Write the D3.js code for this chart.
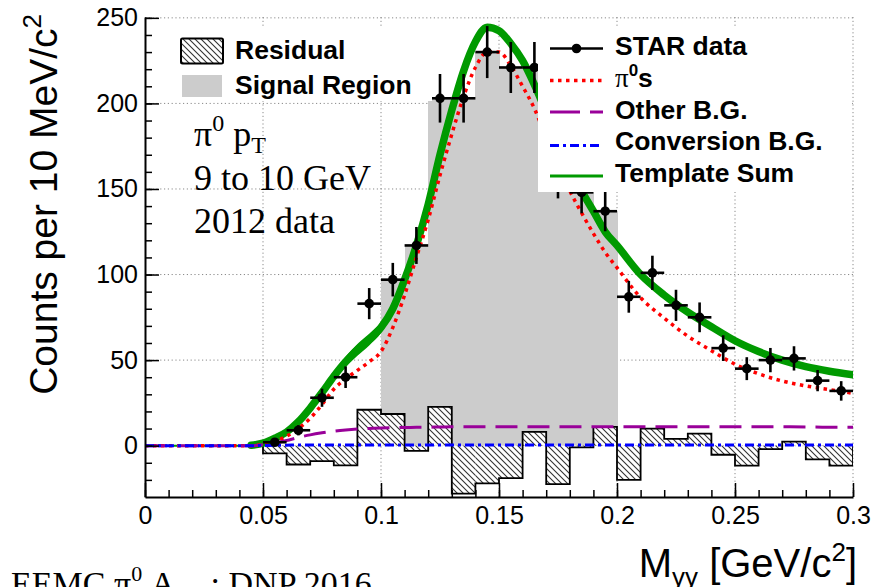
<!DOCTYPE html>
<html>
<head>
<meta charset="utf-8">
<script src="https://cdn.jsdelivr.net/npm/d3@7"></script>
<style>
  html, body { margin: 0; padding: 0; background: #fff; }
  svg { display: block; }
</style>
</head>
<body>
<svg id="chart" width="888" height="587"></svg>
<script>
// ---- Diphoton invariant-mass spectrum, 10 MeV bins (bin centres in GeV/c^2) ----
const massBins = [0.055, 0.065, 0.075, 0.085, 0.095, 0.105, 0.115, 0.125, 0.135, 0.145,
                  0.155, 0.165, 0.175, 0.185, 0.195, 0.205, 0.215, 0.225, 0.235, 0.245,
                  0.255, 0.265, 0.275, 0.285, 0.295];
const counts   = [2, 9, 28, 40, 83, 97, 117, 203, 203, 230,
                  221, 221, 157, 148, 137, 87, 101, 82, 75, 57,
                  45, 50, 51, 38, 32];
const countErr = [1.4, 3.0, 5.3, 6.3, 9.1, 9.8, 10.8, 14.2, 14.2, 15.2,
                  14.9, 14.9, 12.5, 12.2, 11.7, 9.3, 10.0, 9.1, 8.7, 7.5,
                  6.7, 7.1, 7.1, 6.2, 5.7];

// Residual (data minus template sum), one value per 10 MeV bin from 0.05 to 0.30
const residualLowEdges = [0.05, 0.06, 0.07, 0.08, 0.09, 0.10, 0.11, 0.12, 0.13, 0.14,
                          0.15, 0.16, 0.17, 0.18, 0.19, 0.20, 0.21, 0.22, 0.23, 0.24,
                          0.25, 0.26, 0.27, 0.28, 0.29];
const residual = [-4.5, -11, -9, -11.5, 21, 18.5, -3, 22.7, -28, -22,
                  -19, 8, -22.5, -1, 11, -20, 10, 4, 7, -5.3,
                  -11.7, -2, 2.4, -8, -11.7];

// Signal integration window
const signalRange = [0.10, 0.20];

// Fitted templates, sampled in mass
const curveMass = [0, 0.04, 0.045, 0.05, 0.055, 0.06, 0.065, 0.07, 0.075, 0.08,
                   0.085, 0.09, 0.095, 0.1, 0.105, 0.11, 0.115, 0.12, 0.125, 0.13,
                   0.135, 0.14, 0.145, 0.15, 0.155, 0.16, 0.165, 0.17, 0.175, 0.18,
                   0.185, 0.19, 0.195, 0.2, 0.21, 0.22, 0.23, 0.24, 0.25, 0.26,
                   0.27, 0.28, 0.29, 0.3];
const templateSum = [0, 0, 0.2, 1.5, 4.4, 8, 14, 22, 31, 40.5,
                     49, 56, 62, 69, 80, 97, 117, 141, 170, 196,
                     219, 236, 244.5, 242.5, 235, 225, 211, 195, 179, 163,
                     149, 137, 125, 117, 100, 88, 78, 69.5, 61.3, 55,
                     50, 46.2, 43.5, 41.4];
const templateSpread = [0, 0, 0, 0.3, 0.6, 1, 1.4, 1.8, 2.2, 2.6,
                        3, 3.4, 3.4, 3.2, 2.6, 2, 1.6, 1.4, 1.2, 1.2,
                        1.2, 1.4, 1.6, 1.6, 1.4, 1.2, 1, 1, 1, 1,
                        1, 1, 1, 1, 1, 1, 1, 1, 1, 1,
                        1, 1, 1, 1];
const pi0Template = [0, 0, 0, 0.8, 2.5, 5.5, 10, 16, 24, 33,
                     39, 44, 49, 55, 69, 88, 110, 132, 158, 182,
                     204, 221, 230, 230, 222, 210, 197, 180, 165, 149,
                     136, 124, 113, 104, 86.5, 74.5, 64, 55.5, 47.6, 42,
                     37.8, 34.9, 32.8, 30.6];
const otherBG = [0, 0, 0, 0.5, 1.5, 3, 4.8, 6.3, 7.5, 8.5,
                 9.2, 9.7, 10, 10.3, 10.5, 10.6, 10.7, 10.8, 10.9, 11,
                 11, 11, 11, 11, 11, 11, 11, 11, 11, 11,
                 11, 11, 11, 11, 11, 11, 11, 11, 11, 11,
                 11, 10.9, 10.8, 10.8];
const conversionBG = [0, 0, 0, 0.1, 0.2, 0.3, 0.4, 0.4, 0.4, 0.4,
                      0.4, 0.4, 0.4, 0.4, 0.4, 0.4, 0.4, 0.4, 0.4, 0.4,
                      0.4, 0.4, 0.4, 0.4, 0.4, 0.4, 0.4, 0.4, 0.4, 0.4,
                      0.4, 0.4, 0.4, 0.4, 0.4, 0.4, 0.4, 0.4, 0.4, 0.4,
                      0.4, 0.4, 0.4, 0.4];

// Axis ticks
const xTicks = [0, 0.05, 0.1, 0.15, 0.2, 0.25, 0.3];
const xTickLabels = ["0", "0.05", "0.1", "0.15", "0.2", "0.25", "0.3"];
const yTicks = [0, 50, 100, 150, 200, 250];
const yTickLabels = ["0", "50", "100", "150", "200", "250"];

// ---------------------------------------------------------------
const SANS = "'Liberation Sans', Arial, Helvetica, sans-serif";
const SERIF = "'Liberation Serif', 'Times New Roman', Times, serif";
const C = {
  gray: "#cccccc", green: "#009a00", red: "#ff0000",
  purple: "#990099", blue: "#0000ff", grid: "#8a8a8a"
};

const svg = d3.select("#chart");
const frame = { left: 145, right: 853, top: 17, bottom: 497 };

const x = d3.scaleLinear().domain([0, 0.3]).range([frame.left, frame.right]);
const y = d3.scaleLinear().domain([-30, 250.5]).range([frame.bottom, frame.top]);

const defs = svg.append("defs");
defs.append("clipPath").attr("id", "plotClip")
  .append("rect")
  .attr("x", frame.left).attr("y", frame.top)
  .attr("width", frame.right - frame.left).attr("height", frame.bottom - frame.top);

const hatch = defs.append("pattern").attr("id", "hatch")
  .attr("patternUnits", "userSpaceOnUse").attr("width", 6).attr("height", 6);
hatch.append("rect").attr("width", 6).attr("height", 6).attr("fill", "#fff");
hatch.append("path").attr("d", "M-1,-1 L7,7 M-1,5 L1,7 M5,-1 L7,1")
  .attr("stroke", "#333").attr("stroke-width", 1.1);

// ---- grid ----
const grid = svg.append("g").attr("stroke", C.grid).attr("stroke-width", 1)
  .attr("stroke-dasharray", "1.2,2.6");
grid.selectAll("line.gx").data(xTicks.slice(1)).join("line").attr("class", "gx")
  .attr("x1", d => x(d)).attr("x2", d => x(d))
  .attr("y1", frame.top).attr("y2", frame.bottom);
grid.selectAll("line.gy").data(yTicks).join("line").attr("class", "gy")
  .attr("x1", frame.left).attr("x2", frame.right)
  .attr("y1", d => y(d)).attr("y2", d => y(d));

const plot = svg.append("g").attr("clip-path", "url(#plotClip)");

// ---- signal region: data histogram inside the window ----
const binHalf = 0.005;
const signalBins = massBins.map((m, i) => ({ m, c: counts[i] }))
  .filter(d => d.m > signalRange[0] && d.m < signalRange[1]);
plot.append("g").attr("shape-rendering", "crispEdges")
  .selectAll("rect").data(signalBins).join("rect")
  .attr("x", d => x(d.m - binHalf))
  .attr("width", d => x(d.m + binHalf) - x(d.m - binHalf) + 0.6)
  .attr("y", d => y(d.c))
  .attr("height", d => y(0) - y(d.c))
  .attr("fill", C.gray);

// ---- residual histogram ----
const resid = residualLowEdges.map((lo, i) => ({ lo, hi: lo + 0.01, r: residual[i] }));
plot.append("g").selectAll("rect").data(resid).join("rect")
  .attr("x", d => x(d.lo))
  .attr("width", d => x(d.hi) - x(d.lo))
  .attr("y", d => Math.min(y(d.r), y(0)))
  .attr("height", d => Math.abs(y(d.r) - y(0)))
  .attr("fill", "url(#hatch)");
const outline = [[resid[0].lo, 0]];
resid.forEach(d => { outline.push([d.lo, d.r]); outline.push([d.hi, d.r]); });
outline.push([resid[resid.length - 1].hi, 0]);
plot.append("path")
  .attr("d", d3.line().x(d => x(d[0])).y(d => y(d[1]))(outline))
  .attr("fill", "none").attr("stroke", "#000").attr("stroke-width", 1.8);

// ---- templates ----
const pts = arr => curveMass.map((m, i) => ({ m, v: arr[i] }));
const line = d3.line().x(d => x(d.m)).y(d => y(d.v)).curve(d3.curveMonotoneX);

// template sum: band + thick line
const band = curveMass.map((m, i) => ({ m, lo: templateSum[i] - templateSpread[i], hi: templateSum[i] + templateSpread[i] }));
plot.append("path")
  .attr("d", d3.area().x(d => x(d.m)).y0(d => y(d.lo)).y1(d => y(d.hi)).curve(d3.curveMonotoneX)(band))
  .attr("fill", C.green);
plot.append("path").attr("d", line(pts(templateSum)))
  .attr("fill", "none").attr("stroke", C.green).attr("stroke-width", 2);
plot.append("path").attr("d", line(pts(templateSum).filter(d => d.m >= 0.045)))
  .attr("fill", "none").attr("stroke", C.green).attr("stroke-width", 7.5)
  .attr("stroke-linejoin", "round").attr("stroke-linecap", "round");

plot.append("path").attr("d", line(pts(pi0Template)))
  .attr("fill", "none").attr("stroke", C.red).attr("stroke-width", 3.5)
  .attr("stroke-dasharray", "3.5,4.5");
plot.append("path").attr("d", line(pts(otherBG)))
  .attr("fill", "none").attr("stroke", C.purple).attr("stroke-width", 3)
  .attr("stroke-dasharray", "22,10");
plot.append("path").attr("d", line(pts(conversionBG)))
  .attr("fill", "none").attr("stroke", C.blue).attr("stroke-width", 3)
  .attr("stroke-dasharray", "9,4,3,4");

// ---- data points ----
const data = massBins.map((m, i) => ({ m, c: counts[i], e: countErr[i] }));
const pg = plot.append("g").attr("stroke", "#000").attr("stroke-width", 2.6);
pg.selectAll("line.eh").data(data).join("line").attr("class", "eh")
  .attr("x1", d => x(d.m - binHalf)).attr("x2", d => x(d.m + binHalf))
  .attr("y1", d => y(d.c)).attr("y2", d => y(d.c));
pg.selectAll("line.ev").data(data).join("line").attr("class", "ev")
  .attr("x1", d => x(d.m)).attr("x2", d => x(d.m))
  .attr("y1", d => y(d.c - d.e)).attr("y2", d => y(d.c + d.e));
plot.append("g").selectAll("circle").data(data).join("circle")
  .attr("cx", d => x(d.m)).attr("cy", d => y(d.c)).attr("r", 4.8).attr("fill", "#000");

// ---- legends ----
const legL = svg.append("g");
legL.append("rect").attr("x", 148).attr("y", 27).attr("width", 284).attr("height", 74).attr("fill", "#fff");
legL.append("rect").attr("x", 181).attr("y", 38.5).attr("width", 42).attr("height", 25)
  .attr("rx", 1.5).attr("fill", "url(#hatch)").attr("stroke", "#000").attr("stroke-width", 2);
legL.append("rect").attr("x", 182).attr("y", 75).attr("width", 40).attr("height", 22).attr("fill", C.gray);
legL.append("text").attr("x", 235).attr("y", 58.5).text("Residual");
legL.append("text").attr("x", 235).attr("y", 93.5).text("Signal Region");
legL.selectAll("text").attr("font-family", SANS).attr("font-weight", "bold").attr("font-size", 26.5).attr("fill", "#000");

const legR = svg.append("g");
legR.append("rect").attr("x", 538).attr("y", 26).attr("width", 314).attr("height", 166).attr("fill", "#fff");
const rowY = [55, 87, 118.5, 150, 181.5];
const sx0 = 550, sx1 = 603;
// STAR data
legR.append("line").attr("x1", sx0).attr("x2", sx1).attr("y1", rowY[0] - 6.5).attr("y2", rowY[0] - 6.5)
  .attr("stroke", "#000").attr("stroke-width", 2.6);
legR.append("circle").attr("cx", (sx0 + sx1) / 2).attr("cy", rowY[0] - 6.5).attr("r", 4.8).attr("fill", "#000");
legR.append("line").attr("x1", sx0).attr("x2", sx1).attr("y1", rowY[1] - 6.5).attr("y2", rowY[1] - 6.5)
  .attr("stroke", C.red).attr("stroke-width", 3.5).attr("stroke-dasharray", "3.5,4.5");
legR.append("line").attr("x1", sx0).attr("x2", sx1).attr("y1", rowY[2] - 6.5).attr("y2", rowY[2] - 6.5)
  .attr("stroke", C.purple).attr("stroke-width", 3).attr("stroke-dasharray", "30,10");
legR.append("line").attr("x1", sx0).attr("x2", sx1).attr("y1", rowY[3] - 4.5).attr("y2", rowY[3] - 4.5)
  .attr("stroke", C.blue).attr("stroke-width", 3).attr("stroke-dasharray", "9,4,3,4");
legR.append("line").attr("x1", sx0).attr("x2", sx1).attr("y1", rowY[4] - 5.5).attr("y2", rowY[4] - 5.5)
  .attr("stroke", C.green).attr("stroke-width", 3);

const legText = legR.append("g").attr("font-family", SANS).attr("font-weight", "bold")
  .attr("font-size", 26.5).attr("fill", "#000");
legText.append("text").attr("x", 615).attr("y", rowY[0]).text("STAR data");
const piT = legText.append("text").attr("x", 615).attr("y", rowY[1]);
piT.append("tspan").attr("font-family", SERIF).attr("font-weight", "normal").attr("font-size", 27).text("π");
piT.append("tspan").attr("font-size", 17).attr("dy", -11).text("0");
piT.append("tspan").attr("dy", 11).text("s");
legText.append("text").attr("x", 615).attr("y", rowY[2]).text("Other B.G.");
legText.append("text").attr("x", 615).attr("y", rowY[3]).text("Conversion B.G.");
legText.append("text").attr("x", 615).attr("y", rowY[4]).text("Template Sum");

// ---- annotation ----
const ann = svg.append("g").attr("font-family", SERIF).attr("font-size", 36).attr("fill", "#000");
const a1 = ann.append("text").attr("x", 194).attr("y", 146);
a1.append("tspan").text("π");
a1.append("tspan").attr("font-size", 24).attr("dy", -15).text("0");
a1.append("tspan").attr("dy", 15).text(" p");
a1.append("tspan").attr("font-size", 24).attr("dy", 7).text("T");
ann.append("text").attr("x", 194).attr("y", 190).text("9 to 10 GeV");
ann.append("text").attr("x", 194).attr("y", 233).text("2012 data");

// ---- axes ----
const axisG = svg.append("g");
const xMinor = d3.range(0, 0.3001, 0.01);
const yMinor = d3.range(-20, 250.5, 10);

axisG.append("g").attr("transform", `translate(0,${frame.bottom})`)
  .call(d3.axisBottom(x).tickValues(xTicks).tickSizeInner(-14).tickSizeOuter(0)
    .tickPadding(9).tickFormat((d, i) => xTickLabels[i]));
axisG.append("g").attr("transform", `translate(0,${frame.bottom})`)
  .call(d3.axisBottom(x).tickValues(xMinor).tickSizeInner(-7).tickSizeOuter(0).tickFormat(""))
  .call(g => g.select(".domain").remove());

axisG.append("g").attr("transform", `translate(${frame.left},0)`)
  .call(d3.axisLeft(y).tickValues(yTicks).tickSizeInner(-14).tickSizeOuter(0)
    .tickPadding(7).tickFormat((d, i) => yTickLabels[i]));
axisG.append("g").attr("transform", `translate(${frame.left},0)`)
  .call(d3.axisLeft(y).tickValues(yMinor).tickSizeInner(-7).tickSizeOuter(0).tickFormat(""))
  .call(g => g.select(".domain").remove());

axisG.selectAll(".domain").attr("stroke", "#000").attr("stroke-width", 2);
axisG.selectAll(".tick line").attr("stroke", "#000").attr("stroke-width", 1.5);
axisG.selectAll(".tick text").attr("font-family", SANS).attr("font-size", 25).attr("fill", "#000");

// axis titles
const yt = svg.append("text").attr("transform", "translate(57,14) rotate(-90)")
  .attr("text-anchor", "end").attr("font-family", SANS).attr("font-size", 39).attr("fill", "#000");
yt.append("tspan").text("Counts per 10 MeV/c");
yt.append("tspan").attr("font-size", 26).attr("dy", -16).text("2");

const xt = svg.append("text").attr("x", 857).attr("y", 577).attr("text-anchor", "end")
  .attr("font-family", SANS).attr("font-size", 40).attr("fill", "#000");
xt.append("tspan").text("M");
xt.append("tspan").attr("font-size", 26).attr("dy", 9).text("γγ");
xt.append("tspan").attr("dy", -9).text(" [GeV/c");
xt.append("tspan").attr("font-size", 26).attr("dy", -16).text("2");
xt.append("tspan").attr("dy", 16).text("]");

// footer caption
const cap = svg.append("text").attr("x", 11).attr("y", 595)
  .attr("font-family", SERIF).attr("font-size", 34).attr("fill", "#000");
cap.append("tspan").text("EEMC π");
cap.append("tspan").attr("font-size", 22).attr("dy", -14).text("0");
cap.append("tspan").attr("dy", 14).text(" A");
cap.append("tspan").attr("font-size", 22).attr("dy", 8).text("LL");
cap.append("tspan").attr("dy", -8).text(" : DNP 2016");
</script>
</body>
</html>
